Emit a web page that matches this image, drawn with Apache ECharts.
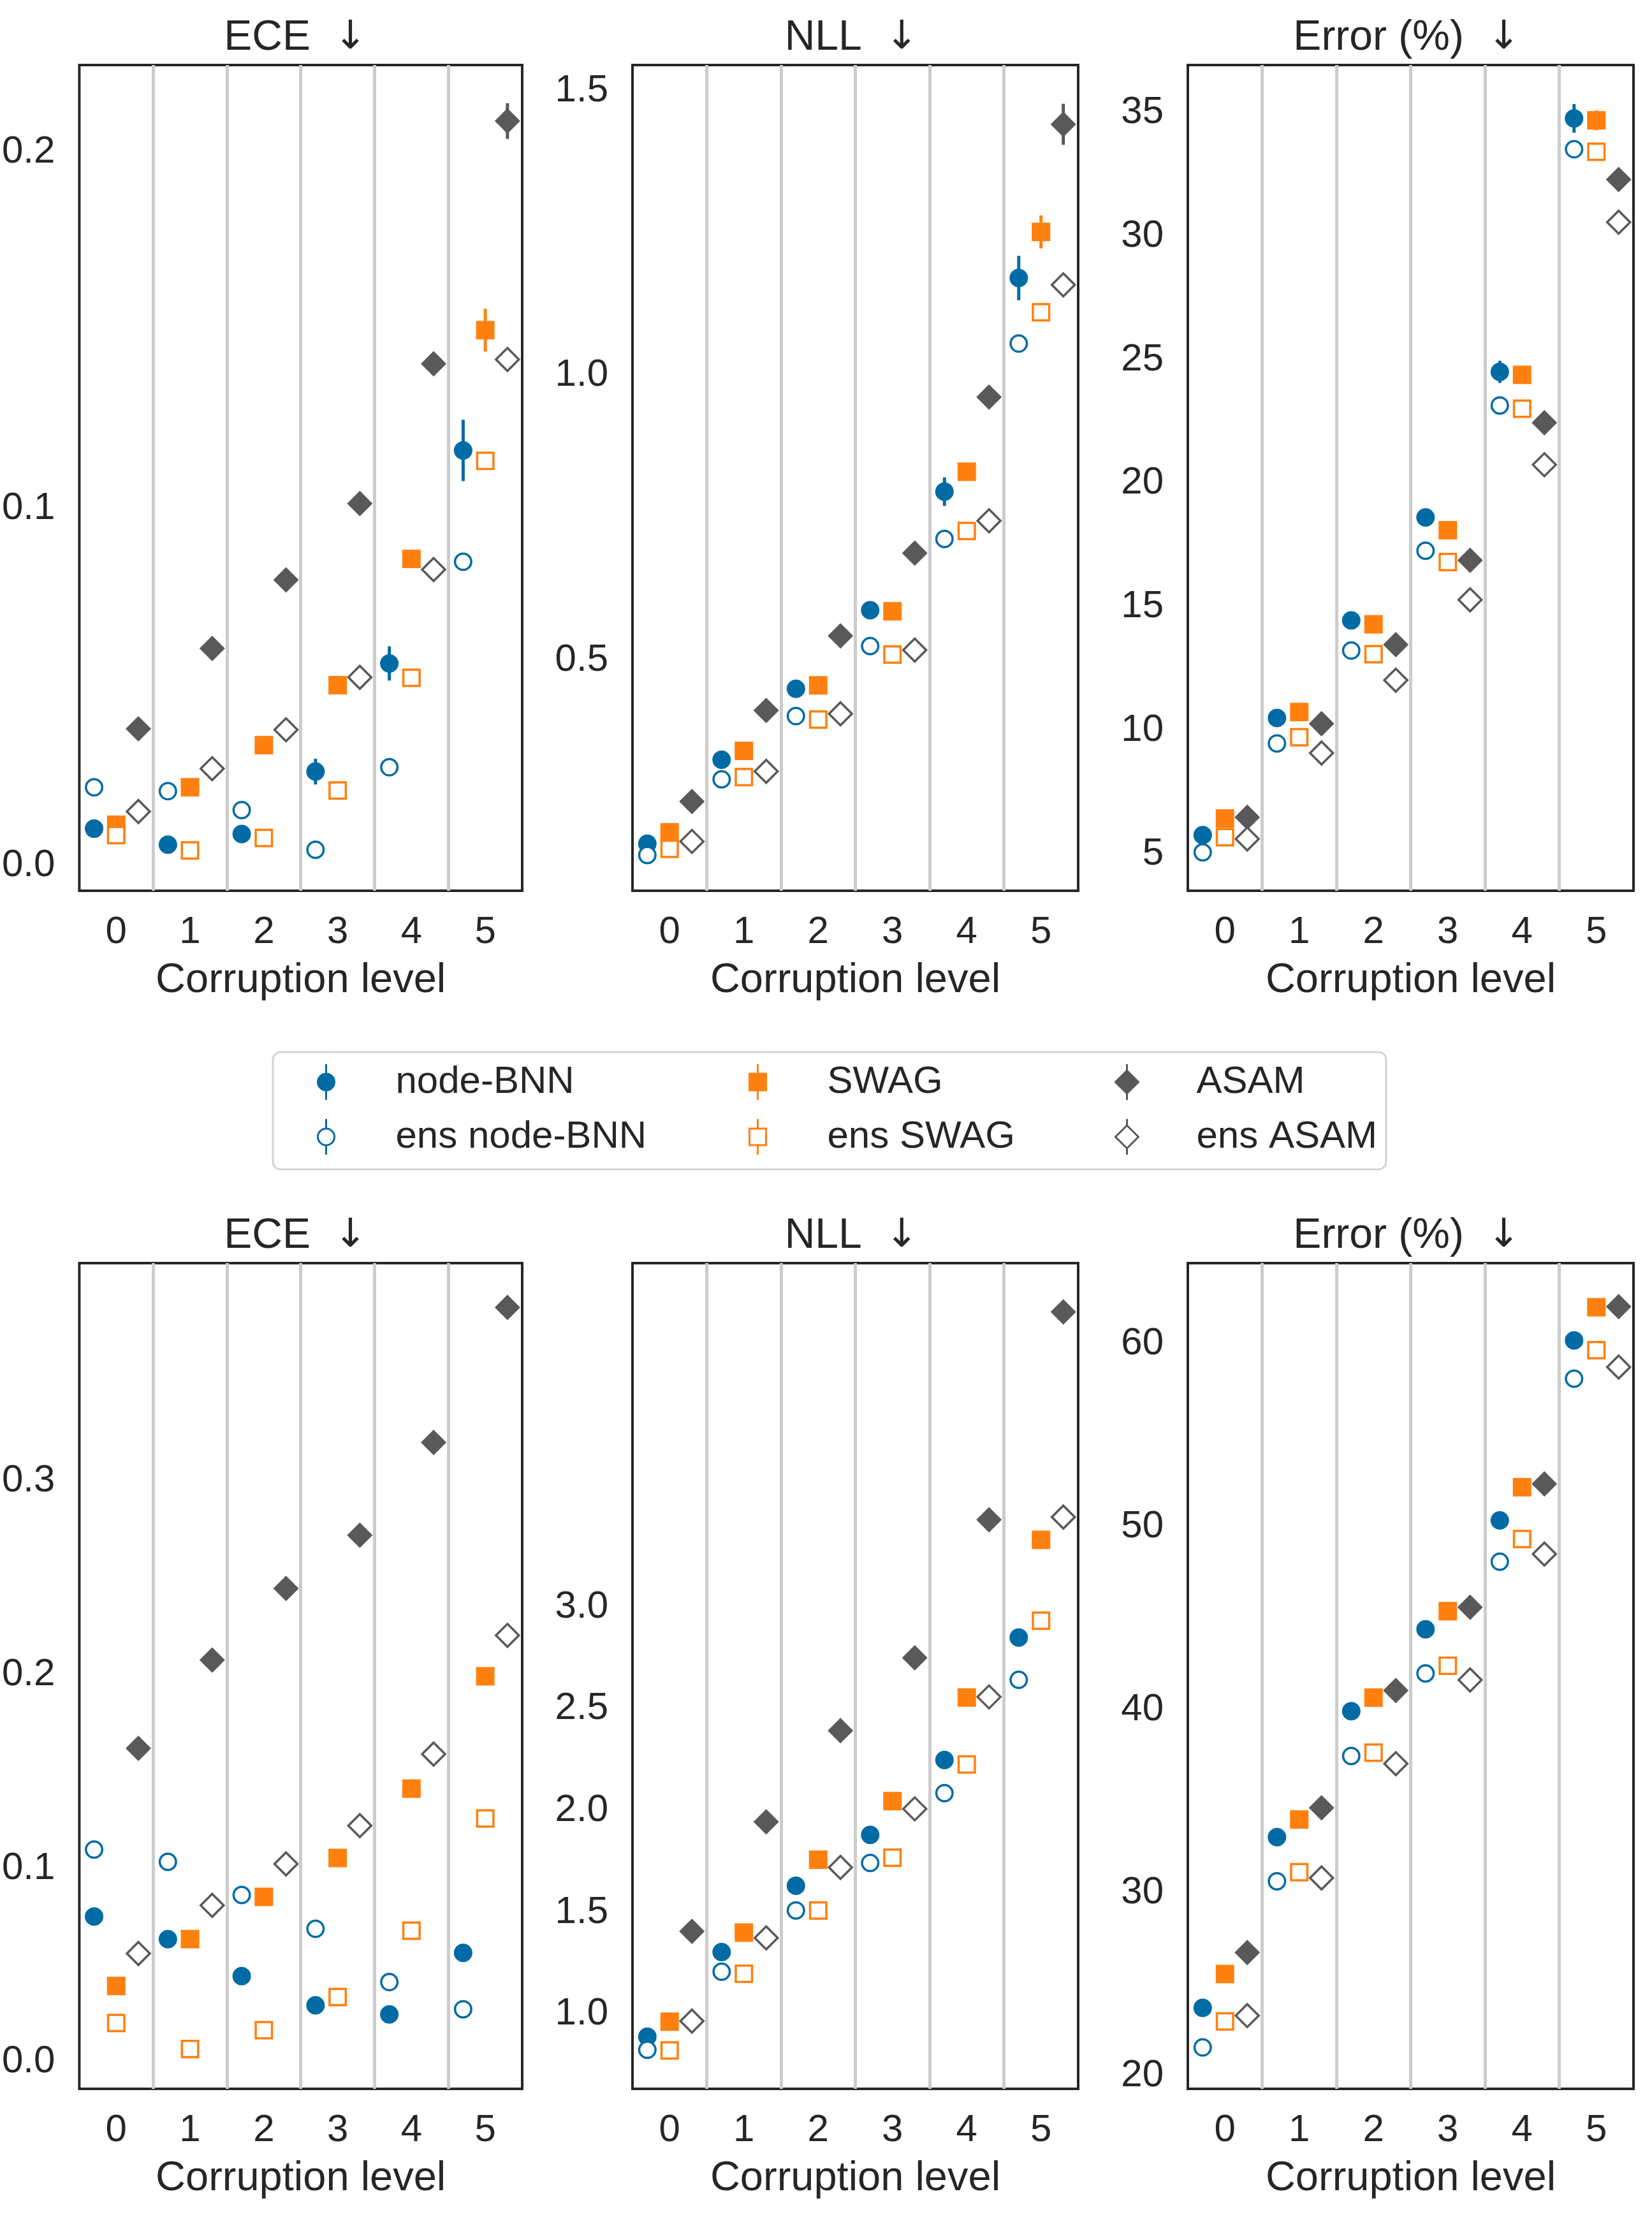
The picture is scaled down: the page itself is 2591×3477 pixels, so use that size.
<!DOCTYPE html>
<html>
<head>
<meta charset="utf-8">
<title>Corruption level</title>
<script src="https://cdn.jsdelivr.net/npm/echarts@6.0.0/dist/echarts.min.js"></script>
<style>
  html, body { margin: 0; padding: 0; background: #fff; }
  #main { width: 2591px; height: 3477px; }
</style>
</head>
<body>
<div id="main"></div>
<script>
const levels = [0, 1, 2, 3, 4, 5];
const methods = ['node-BNN', 'ens node-BNN', 'SWAG', 'ens SWAG', 'ASAM', 'ens ASAM'];
const separators = [0.5, 1.5, 2.5, 3.5, 4.5];

// top row - ECE
const eceA_node = [0.0103, 0.0058, 0.0088, 0.0263, 0.0566, 0.1163];
const eceA_ensNode = [0.0219, 0.0208, 0.0155, 0.0044, 0.0275, 0.0851];
const eceA_swag = [0.0114, 0.0219, 0.0337, 0.0505, 0.0859, 0.150];
const eceA_ensSwag = [0.0085, 0.0042, 0.0077, 0.021, 0.0526, 0.1134];
const eceA_asam = [0.0383, 0.0608, 0.080, 0.1014, 0.1406, 0.2086];
const eceA_ensAsam = [0.0151, 0.0271, 0.038, 0.0527, 0.0829, 0.1418];
const eceA_nodeErr = [0.0008, 0.0008, 0.0008, 0.0036, 0.0048, 0.0086];
const eceA_swagErr = [0.0008, 0.0008, 0.0008, 0.0008, 0.002, 0.006];
const eceA_asamErr = [0, 0, 0, 0, 0, 0.005];
const eceA_ticks = [0, 0.1, 0.2];

// top row - NLL
const nllA_node = [0.178, 0.3255, 0.450, 0.588, 0.796, 1.171];
const nllA_ensNode = [0.158, 0.291, 0.402, 0.525, 0.713, 1.056];
const nllA_swag = [0.198, 0.341, 0.456, 0.586, 0.831, 1.252];
const nllA_ensSwag = [0.169, 0.295, 0.396, 0.510, 0.727, 1.111];
const nllA_asam = [0.252, 0.412, 0.543, 0.688, 0.962, 1.441];
const nllA_ensAsam = [0.182, 0.305, 0.406, 0.518, 0.745, 1.159];
const nllA_nodeErr = [0.005, 0.005, 0.005, 0.010, 0.025, 0.039];
const nllA_swagErr = [0.003, 0.003, 0.003, 0.003, 0.005, 0.029];
const nllA_asamErr = [0.003, 0.003, 0.003, 0.003, 0.008, 0.036];
const nllA_ticks = [0.5, 1.0, 1.5];

// top row - Error (%)
const errA_node = [5.755, 10.50, 14.45, 18.62, 24.51, 34.77];
const errA_ensNode = [5.06, 9.47, 13.23, 17.27, 23.15, 33.52];
const errA_swag = [6.43, 10.74, 14.29, 18.10, 24.39, 34.69];
const errA_ensSwag = [5.67, 9.72, 13.08, 16.81, 23.02, 33.42];
const errA_asam = [6.48, 10.27, 13.47, 16.88, 22.45, 32.30];
const errA_ensAsam = [5.60, 9.08, 12.03, 15.28, 20.75, 30.57];
const errA_nodeErr = [0.1, 0.1, 0.1, 0.3, 0.45, 0.58];
const errA_swagErr = [0.05, 0.05, 0.05, 0.05, 0.1, 0.4];
const errA_asamErr = [0, 0, 0, 0, 0, 0];
const errA_ticks = [5, 10, 15, 20, 25, 30, 35];

// bottom row - ECE
const eceB_node = [0.0751, 0.0634, 0.0443, 0.0292, 0.0245, 0.0563];
const eceB_ensNode = [0.1096, 0.1033, 0.0862, 0.0687, 0.0412, 0.0272];
const eceB_swag = [0.0392, 0.0634, 0.0852, 0.1053, 0.1411, 0.1991];
const eceB_ensSwag = [0.0201, 0.0067, 0.0164, 0.0335, 0.0677, 0.1257];
const eceB_asam = [0.1619, 0.2075, 0.2444, 0.2719, 0.3198, 0.3895];
const eceB_ensAsam = [0.0560, 0.0808, 0.1022, 0.1220, 0.1589, 0.2202];
const eceB_nodeErr = [0.001, 0.001, 0.001, 0.001, 0.001, 0.004];
const eceB_swagErr = [0.001, 0.001, 0.001, 0.001, 0.001, 0.003];
const eceB_asamErr = [0, 0, 0, 0, 0, 0.002];
const eceB_ticks = [0, 0.1, 0.2, 0.3];

// bottom row - NLL
const nllB_node = [0.888, 1.304, 1.630, 1.880, 2.248, 2.850];
const nllB_ensNode = [0.824, 1.208, 1.509, 1.742, 2.085, 2.642];
const nllB_swag = [0.962, 1.400, 1.758, 2.046, 2.555, 3.330];
const nllB_ensSwag = [0.821, 1.198, 1.509, 1.768, 2.226, 2.933];
const nllB_asam = [1.406, 1.944, 2.392, 2.750, 3.429, 4.450];
const nllB_ensAsam = [0.965, 1.374, 1.720, 2.008, 2.558, 3.442];
const nllB_nodeErr = [0.005, 0.005, 0.005, 0.005, 0.01, 0.015];
const nllB_swagErr = [0.005, 0.005, 0.005, 0.005, 0.01, 0.045];
const nllB_asamErr = [0.005, 0.005, 0.005, 0.005, 0.01, 0.04];
const nllB_ticks = [1.0, 1.5, 2.0, 2.5, 3.0];

// bottom row - Error (%)
const errB_node = [23.72, 33.05, 39.93, 44.40, 50.35, 60.18];
const errB_ensNode = [21.56, 30.64, 37.48, 41.99, 48.09, 58.09];
const errB_swag = [25.57, 34.01, 40.67, 45.39, 52.16, 61.99];
const errB_ensSwag = [22.98, 31.13, 37.66, 42.41, 49.33, 59.65];
const errB_asam = [26.74, 34.65, 41.06, 45.60, 52.34, 62.02];
const errB_ensAsam = [23.30, 30.82, 37.06, 41.63, 48.51, 58.72];
const errB_ticks = [20, 30, 40, 50, 60];

const BLUE = '#006BA4', ORANGE = '#FF800E', GRAY = '#595959', INK = '#262626';
const FONT = "'Liberation Sans', Arial, 'DejaVu Sans', sans-serif";

// marker look for each method, same order as methods
const looks = [
  { color: BLUE, symbol: 'circle', size: 29, filled: true, dx: -0.3 },
  { color: BLUE, symbol: 'circle', size: 25.5, filled: false, dx: -0.3 },
  { color: ORANGE, symbol: 'rect', size: 29, filled: true, dx: 0 },
  { color: ORANGE, symbol: 'rect', size: 25.5, filled: false, dx: 0 },
  { color: GRAY, symbol: 'diamond', size: 40, filled: true, dx: 0.3 },
  { color: GRAY, symbol: 'diamond', size: 36, filled: false, dx: 0.3 }
];

const colLeft = [120, 992, 1863];
const rowTop = [102, 1981];
const PW = 699, PH = 1295;

const panels = [
  { title: 'ECE', row: 0, col: 0, min: -0.0071, max: 0.2243, ticks: eceA_ticks, dec: 1,
    vals: [eceA_node, eceA_ensNode, eceA_swag, eceA_ensSwag, eceA_asam, eceA_ensAsam],
    errs: [eceA_nodeErr, null, eceA_swagErr, null, eceA_asamErr, null] },
  { title: 'NLL', row: 0, col: 1, min: 0.0954, max: 1.545, ticks: nllA_ticks, dec: 1,
    vals: [nllA_node, nllA_ensNode, nllA_swag, nllA_ensSwag, nllA_asam, nllA_ensAsam],
    errs: [nllA_nodeErr, null, nllA_swagErr, null, nllA_asamErr, null] },
  { title: 'Error (%)', row: 0, col: 2, min: 3.505, max: 36.93, ticks: errA_ticks, dec: 0,
    vals: [errA_node, errA_ensNode, errA_swag, errA_ensSwag, errA_asam, errA_ensAsam],
    errs: [errA_nodeErr, null, errA_swagErr, null, errA_asamErr, null] },
  { title: 'ECE', row: 1, col: 0, min: -0.0139, max: 0.4124, ticks: eceB_ticks, dec: 1,
    vals: [eceB_node, eceB_ensNode, eceB_swag, eceB_ensSwag, eceB_asam, eceB_ensAsam],
    errs: [eceB_nodeErr, null, eceB_swagErr, null, eceB_asamErr, null] },
  { title: 'NLL', row: 1, col: 1, min: 0.632, max: 4.69, ticks: nllB_ticks, dec: 1,
    vals: [nllB_node, nllB_ensNode, nllB_swag, nllB_ensSwag, nllB_asam, nllB_ensAsam],
    errs: [nllB_nodeErr, null, nllB_swagErr, null, nllB_asamErr, null] },
  { title: 'Error (%)', row: 1, col: 2, min: 19.3, max: 64.4, ticks: errB_ticks, dec: 0,
    vals: [errB_node, errB_ensNode, errB_swag, errB_ensSwag, errB_asam, errB_ensAsam],
    errs: [null, null, null, null, null, null] }
];

const chart = echarts.init(document.getElementById('main'));

const grids = [], xAxes = [], yAxes = [], titles = [], series = [];

panels.forEach((p, i) => {
  const left = colLeft[p.col], top = rowTop[p.row];
  grids.push({ left: left, top: top, width: PW, height: PH, show: true,
    borderColor: INK, borderWidth: 4, backgroundColor: '#fff', containLabel: false });
  titles.push({ text: p.title + '  {arr|\u2193}', left: left + PW / 2 - 11, top: top - 80, textAlign: 'center',
    textStyle: { fontFamily: FONT, fontSize: 66, fontWeight: 'normal', color: INK,
      rich: { arr: { fontFamily: "'DejaVu Sans', sans-serif", fontSize: 62, color: INK } } } });
  xAxes.push({
    type: 'value', gridIndex: i, min: -0.5, max: 5.5,
    name: 'Corruption level', nameLocation: 'middle', nameGap: 109,
    nameTextStyle: { fontFamily: FONT, fontSize: 65, color: INK },
    axisLine: { show: false }, axisTick: { show: false }, splitLine: { show: false },
    axisLabel: { customValues: levels, margin: 35, fontFamily: FONT, fontSize: 60, color: INK,
      formatter: v => String(Math.round(v)) }
  });
  yAxes.push({
    type: 'value', gridIndex: i, min: p.min, max: p.max,
    axisLine: { show: false }, axisTick: { show: false }, splitLine: { show: false },
    axisLabel: { customValues: p.ticks, margin: 38, fontFamily: FONT, fontSize: 60, color: INK,
      formatter: v => v.toFixed(p.dec) }
  });

  // vertical separators between corruption levels
  series.push({
    type: 'scatter', xAxisIndex: i, yAxisIndex: i, data: [], silent: true, z: 1,
    markLine: { silent: true, symbol: 'none', label: { show: false }, animation: false,
      lineStyle: { color: '#cccccc', width: 5, type: 'solid' },
      emphasis: { disabled: true },
      data: separators.map(v => ({ xAxis: v })) }
  });

  p.vals.forEach((vals, m) => {
    const lk = looks[m];
    const err = p.errs[m];
    if (err) {
      series.push({
        type: 'custom', name: methods[m], xAxisIndex: i, yAxisIndex: i, z: 2, silent: true,
        data: levels.map((l, k) => [l + lk.dx, vals[k], err[k]]),
        encode: { x: 0, y: 1 },
        renderItem: (params, api) => {
          const x = api.value(0), y = api.value(1), e = api.value(2);
          const a = api.coord([x, y - e]), b = api.coord([x, y + e]);
          return { type: 'line', shape: { x1: a[0], y1: a[1], x2: b[0], y2: b[1] },
            style: { stroke: lk.color, lineWidth: 5 } };
        }
      });
    }
    series.push({
      type: 'scatter', name: methods[m], xAxisIndex: i, yAxisIndex: i, z: 2,
      symbol: lk.symbol, symbolSize: lk.size,
      itemStyle: lk.filled ? { color: lk.color, opacity: 1 }
                           : { color: '#ffffff', borderColor: lk.color, borderWidth: 3.5, opacity: 1 },
      emphasis: { disabled: true },
      data: levels.map((l, k) => [l + lk.dx, vals[k]])
    });
  });
});

// legend icons: marker with the error bar line through it
const iconPaths = {
  circle: ['M15 0 L15 56 M28 28 A13 13 0 1 1 2 28 A13 13 0 1 1 28 28 Z',
           'M15 0 L15 15 M15 41 L15 56 M28 28 A13 13 0 1 1 2 28 A13 13 0 1 1 28 28 Z'],
  rect: ['M15 0 L15 56 M2 15 L28 15 L28 41 L2 41 Z',
         'M15 0 L15 15 M15 41 L15 56 M2 15 L28 15 L28 41 L2 41 Z'],
  diamond: ['M15 0 L15 56 M15 10 L33 28 L15 46 L-3 28 Z',
            'M15 0 L15 10 M15 46 L15 56 M15 10 L33 28 L15 46 L-3 28 Z']
};
function legendItem(m) {
  const lk = looks[m];
  return {
    name: methods[m],
    icon: 'path://' + iconPaths[lk.symbol][lk.filled ? 0 : 1],
    itemStyle: { color: lk.filled ? lk.color : '#ffffff', borderColor: lk.color, borderWidth: 3 }
  };
}
const legendLefts = [497, 1174, 1748];
const legends = legendLefts.map((x, c) => ({
  orient: 'vertical', left: x, top: 1667, itemWidth: 208, itemHeight: 56, itemGap: 26,
  selectedMode: false, padding: 0,
  textStyle: { fontFamily: FONT, fontSize: 60, color: INK },
  data: [legendItem(2 * c), legendItem(2 * c + 1)]
}));

chart.setOption({
  animation: false,
  backgroundColor: '#ffffff',
  title: titles,
  grid: grids,
  xAxis: xAxes,
  yAxis: yAxes,
  legend: legends,
  graphic: [{
    type: 'rect', z: 1, silent: true,
    shape: { x: 428, y: 1650, width: 1746, height: 184, r: 12 },
    style: { fill: '#ffffff', stroke: '#d4d4d4', lineWidth: 3 }
  }],
  series: series
});
</script>
</body>
</html>
